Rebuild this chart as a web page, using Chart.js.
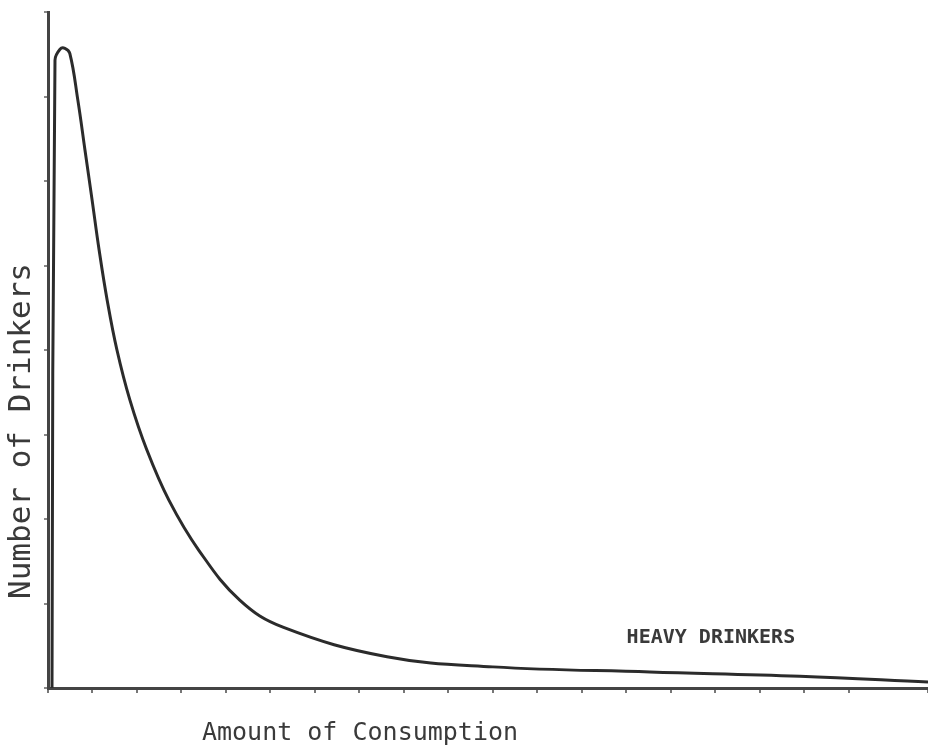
<!DOCTYPE html>
<html>
<head>
<meta charset="utf-8">
<script src="https://cdn.jsdelivr.net/npm/chart.js@4.4.1/dist/chart.umd.min.js"></script>
<style>
  html, body { margin: 0; padding: 0; background: #fff; }
  #wrap { position: relative; width: 928px; height: 751px; }
</style>
</head>
<body>
<div id="wrap"><canvas id="chart"></canvas></div>
<script>
// amount of consumption (x, in tick units) and number of drinkers (y, in tick units)
var consumption = [0.09, 0.157, 0.27, 0.38, 0.49, 0.67, 0.83, 0.99, 1.15, 1.33, 1.55, 1.84, 2.22, 2.72, 3.39, 4.31, 5.28, 7.62, 10.0, 13.53, 16.9, 19.78];
var drinkers    = [0.0, 7.43, 7.56, 7.57, 7.51, 6.96, 6.37, 5.78, 5.18, 4.59, 4.00, 3.41, 2.82, 2.22, 1.63, 1.04, 0.72, 0.37, 0.25, 0.19, 0.14, 0.07];

var xTitle = "Amount of Consumption";
var yTitle = "Number of Drinkers";
var noteText = "HEAVY DRINKERS";
var noteAt = [14.9, 0.59]; // data position of the annotation

var ink = "#2b2b2b";

var points = [];
for (var i = 0; i < consumption.length; i++) {
  points.push({ x: consumption[i], y: drinkers[i] });
}

// draws the axis titles and the annotation, the scanned figure has them off-centre
var textPlugin = {
  id: 'figureText',
  afterDraw: function(chart) {
    var ctx = chart.ctx;
    var xs = chart.scales.x, ys = chart.scales.y;
    ctx.save();
    ctx.fillStyle = "#3a3a3a";
    ctx.textAlign = "center";
    ctx.textBaseline = "middle";

    ctx.font = "25px 'DejaVu Sans Mono', monospace";
    ctx.fillText(xTitle, 360, 733);

    ctx.save();
    ctx.translate(22, 431);
    ctx.rotate(-Math.PI / 2);
    ctx.font = "31px 'DejaVu Sans Mono', monospace";
    ctx.fillText(yTitle, 0, 0);
    ctx.restore();

    ctx.font = "bold 20px 'DejaVu Sans Mono', monospace";
    ctx.fillText(noteText, xs.getPixelForValue(noteAt[0]), ys.getPixelForValue(noteAt[1]));
    ctx.restore();
  }
};

new Chart(document.getElementById('chart'), {
  type: 'line',
  data: {
    datasets: [{
      data: points,
      borderColor: ink,
      borderWidth: 3,
      pointRadius: 0,
      fill: false,
      tension: 0.4
    }]
  },
  options: {
    responsive: true,
    maintainAspectRatio: false,
    animation: false,
    layout: { padding: { top: 12, right: 0, left: 0, bottom: 0 } },
    plugins: { legend: { display: false }, tooltip: { enabled: false } },
    scales: {
      x: {
        type: 'linear',
        min: 0,
        max: 19.78,
        ticks: { display: false, stepSize: 1 },
        grid: { drawOnChartArea: false, drawTicks: true, tickLength: 5, color: "#777", lineWidth: 2 },
        border: { color: "#444", width: 3 },
        afterFit: function(scale) { scale.height = 63; }
      },
      y: {
        min: 0,
        max: 8,
        ticks: { display: false, stepSize: 1 },
        grid: { drawOnChartArea: false, drawTicks: true, tickLength: 4, color: "#888", lineWidth: 2 },
        border: { color: "#444", width: 3 },
        afterFit: function(scale) { scale.width = 48; }
      }
    }
  },
  plugins: [textPlugin]
});
</script>
</body>
</html>
